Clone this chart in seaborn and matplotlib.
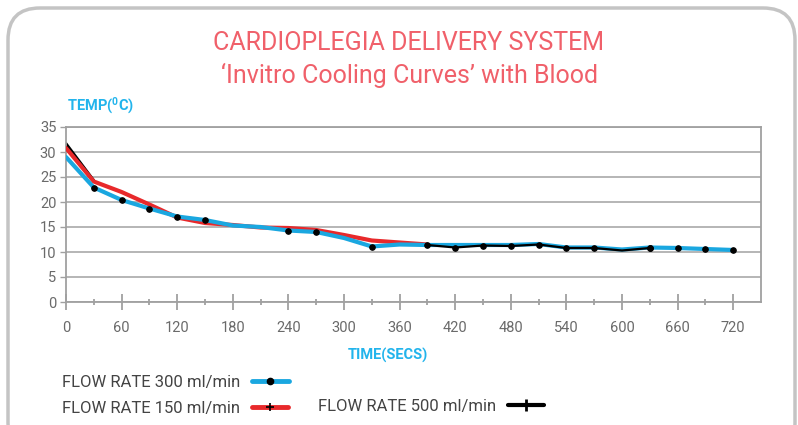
import numpy as np
import pandas as pd
import matplotlib
matplotlib.use("Agg")
import matplotlib.pyplot as plt
from matplotlib.patches import FancyBboxPatch
from matplotlib.lines import Line2D
import seaborn as sns

# ---------------- data ----------------
time_s = [0, 30, 60, 90, 120, 150, 180, 210, 240, 270, 300, 330, 360,
          390, 420, 450, 480, 510, 540, 570, 600, 630, 660, 690, 720]
flow300 = [29.0, 22.9, 20.4, 18.7, 17.1, 16.4, 15.3, 15.0, 14.3, 14.0, 12.8, 11.1, 11.5,
           11.4, 11.4, 11.4, 11.4, 11.6, 10.9, 10.9, 10.5, 10.9, 10.8, 10.6, 10.4]
time150 = [0, 30, 60, 90, 120, 150, 180, 210, 240, 270, 300, 330, 360, 390]
flow150 = [30.8, 24.1, 22.0, 19.5, 16.9, 15.8, 15.4, 14.9, 14.8, 14.4, 13.4, 12.3, 11.9, 11.5]
time500_start = [0, 30]
flow500_start = [31.7, 24.3]
time500_mid = [390, 420, 450, 480, 510, 540, 570, 600, 630]
flow500_mid = [11.4, 10.9, 11.3, 11.2, 11.5, 10.8, 10.8, 10.3, 10.8]
dots300 = [1, 2, 3, 4, 5, 8, 9, 11, 13, 21, 22, 23, 24]
dots500 = [1, 2, 3, 4, 5, 6, 8]

x_ticks = [0, 60, 120, 180, 240, 300, 360, 420, 480, 540, 600, 660, 720]
y_ticks = [0, 5, 10, 15, 20, 25, 30, 35]
series_labels = ["FLOW RATE 300 ml/min", "FLOW RATE 150 ml/min", "FLOW RATE 500 ml/min"]
title1 = "CARDIOPLEGIA DELIVERY SYSTEM"
title2 = "\u2018Invitro Cooling Curves\u2019 with Blood"

# ---------------- style ----------------
sns.set_theme(style="white")
plt.rcParams["font.family"] = ["Roboto", "DejaVu Sans"]

BLUE = "#1aa7e0"
RED = "#e8292b"
TITLE_C = "#f0606a"
LABEL_C = "#22b4ec"
GREY_T = "#6a6a6a"
GRID_C = "#b0b0b0"

fig = plt.figure(figsize=(7.98, 4.25), dpi=100)
fig.patch.set_facecolor("white")

card = FancyBboxPatch((8 / 798, -30 / 425), 787 / 798, (425 - 8 + 30) / 425,
                      boxstyle="round,pad=0,rounding_size=0.04",
                      transform=fig.transFigure, facecolor="white",
                      edgecolor="#c4c4c4", linewidth=2.5, zorder=-5,
                      mutation_aspect=798 / 425)
fig.patches.append(card)

ax = fig.add_axes([66 / 798, 1 - 302 / 425, (761 - 66) / 798, (302 - 127) / 425])
ax.set_facecolor("none")
ax.set_zorder(2)

df300 = pd.DataFrame({"t": time_s, "T": flow300})
df150 = pd.DataFrame({"t": time150, "T": flow150})
df500a = pd.DataFrame({"t": time500_start, "T": flow500_start})
df500b = pd.DataFrame({"t": time500_mid, "T": flow500_mid})

sns.lineplot(data=df500a, x="t", y="T", ax=ax, color="black", linewidth=2.0, zorder=2)
sns.lineplot(data=df150, x="t", y="T", ax=ax, color=RED, linewidth=3.0, zorder=3)
sns.lineplot(data=df300, x="t", y="T", ax=ax, color=BLUE, linewidth=3.0, zorder=4,
             marker="o", markersize=4, markerfacecolor="black", markeredgecolor="black",
             markevery=dots300)
sns.lineplot(data=df500b, x="t", y="T", ax=ax, color="black", linewidth=1.6, zorder=5,
             marker="o", markersize=4, markerfacecolor="black", markeredgecolor="black",
             markevery=dots500)

ax.set_xlim(0, 750)
ax.set_ylim(0, 35)
ax.set_xticks(x_ticks)
ax.set_xticks(np.arange(30, 750, 60), minor=True)
ax.set_yticks(y_ticks)
ax.set_xticklabels([str(v) for v in x_ticks])
ax.set_yticklabels([str(v) for v in y_ticks])
ax.yaxis.grid(True, color=GRID_C, linewidth=1.3)
ax.xaxis.grid(False)
ax.set_axisbelow(True)
for s in ax.spines.values():
    s.set_color("#a0a0a0")
    s.set_linewidth(1.3)
ax.tick_params(axis="x", which="major", direction="inout", length=12, width=1.3,
               color="#a0a0a0", labelsize=10.5, labelcolor=GREY_T, pad=8, bottom=True)
ax.tick_params(axis="x", which="minor", direction="inout", length=5, width=1.3,
               color="#a0a0a0", bottom=True)
ax.tick_params(axis="y", which="major", direction="out", length=4, width=1.0,
               color="#a0a0a0", labelsize=10.5, labelcolor=GREY_T, pad=3, left=True)
ax.set_xlabel("")
ax.set_ylabel("")

fig.text(409 / 798, 1 - 43 / 425, title1, ha="center", va="center",
         fontsize=18, color=TITLE_C, fontweight="normal")
fig.text(409 / 798, 1 - 75 / 425, title2, ha="center", va="center",
         fontsize=18, color=TITLE_C, fontweight="normal")
fig.text(67 / 798, 1 - 106 / 425, r"TEMP($\mathregular{^0}$C)", ha="left", va="center",
         fontsize=10.5, color=LABEL_C, fontweight="bold")
fig.text(388 / 798, 1 - 355 / 425, "TIME(SECS)", ha="center", va="center",
         fontsize=10.5, color=LABEL_C, fontweight="bold")

h300 = Line2D([], [], color=BLUE, linewidth=3.5, marker="o", markersize=4.5,
              markerfacecolor="black", markeredgecolor="black")
h150 = Line2D([], [], color=RED, linewidth=3.5, marker="+", markersize=6,
              markeredgecolor="black", markeredgewidth=1.2)
h500 = Line2D([], [], color="black", linewidth=3.0, marker="+", markersize=9,
              markeredgecolor="black", markeredgewidth=2)

leg_kw = dict(loc="center left", frameon=False, markerfirst=False, handlelength=2.2,
              handletextpad=0.7, fontsize=12, labelcolor="#444444",
              borderpad=0, borderaxespad=0)
leg1 = fig.legend([h300], series_labels[:1], bbox_to_anchor=(62 / 798, 1 - 382 / 425), **leg_kw)
leg2 = fig.legend([h150], series_labels[1:2], bbox_to_anchor=(62 / 798, 1 - 408 / 425), **leg_kw)
leg3 = fig.legend([h500], series_labels[2:], bbox_to_anchor=(318 / 798, 1 - 406 / 425), **leg_kw)

fig.savefig("out.png", dpi=100, facecolor=fig.get_facecolor())
